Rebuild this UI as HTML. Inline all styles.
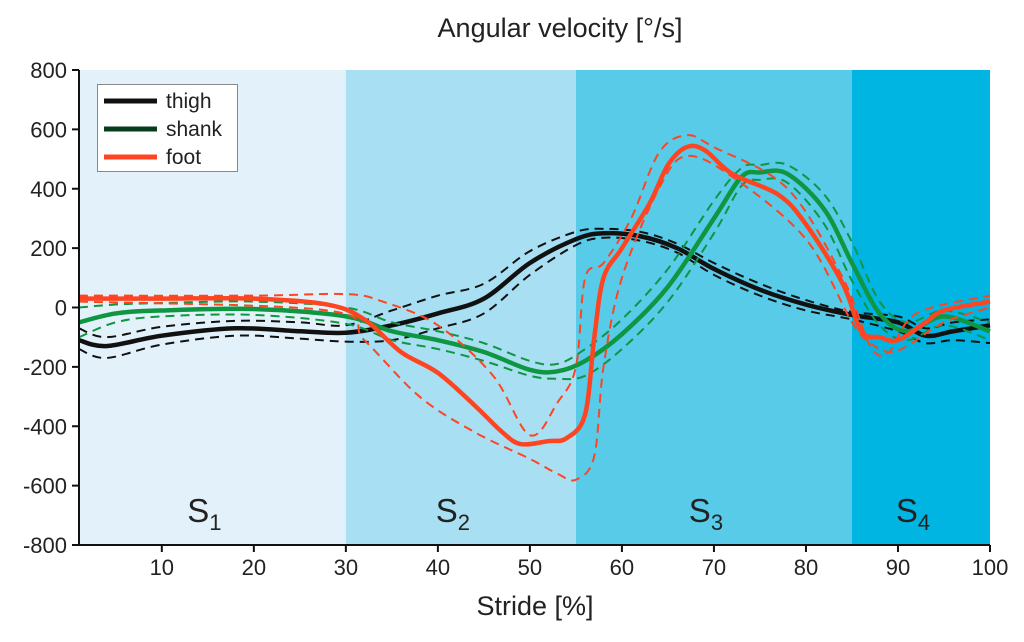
<!DOCTYPE html>
<html><head><meta charset="utf-8"><style>
body{margin:0;background:#fff}
svg text{font-family:"Liberation Sans",sans-serif;fill:#222}
</style></head><body>
<svg id="c" width="1024" height="637" viewBox="0 0 1024 637"></svg>
<script>
const phaseStarts=[1,30,55,85];
const phaseEnds=[30,55,85,100];
const phaseLabels=["1","2","3","4"];
const phaseColors=["#e3f2fa","#a8dff2","#58cbe9","#00b5e2"];
const xTicks=[10,20,30,40,50,60,70,80,90,100];
const yTicks=[800,600,400,200,0,-200,-400,-600,-800];

const thighX=[1,4,10,18,25,30,35,40,45,50,55,58,62,66,70,75,80,85,90,93,96,100];
const thighMean=[-110,-130,-95,-70,-80,-85,-60,-20,30,150,230,250,240,200,130,60,10,-25,-50,-95,-80,-60];
const thighUpper=[-70,-100,-65,-45,-50,-60,-10,40,80,190,255,265,255,215,150,80,25,-15,-30,-70,-50,-40];
const thighLower=[-140,-170,-125,-95,-105,-115,-110,-70,-20,110,210,235,225,185,110,40,-10,-40,-80,-120,-110,-120];

const shankX=[1,5,10,20,30,35,40,45,50,53,56,60,65,70,73,75,78,82,85,88,91,95,100];
const shankMean=[-50,-20,-10,-5,-30,-80,-110,-150,-210,-215,-180,-90,70,300,440,455,450,330,150,-20,-80,-30,-80];
const shankUpper=[0,10,15,20,0,-50,-80,-120,-180,-190,-140,-40,130,360,470,480,480,380,220,20,-50,-10,-50];
const shankLower=[-100,-50,-30,-25,-55,-110,-140,-180,-230,-240,-230,-140,20,250,410,430,420,280,90,-60,-110,-60,-110];

const footX=[1,10,20,28,32,36,40,44,47,49,52,54,56,57,58,60,63,65,67,69,72,77,80,84,86,88,90,93,95,100];
const footMean=[30,30,30,10,-40,-150,-220,-330,-420,-460,-450,-440,-360,-100,100,200,350,480,540,530,450,380,280,80,-80,-100,-110,-50,-10,20];
const footUX=[1,20,30,34,40,46,50,53,55,56,58,61,64,67,70,78,84,87,89,92,100];
const footUpper=[40,40,45,20,-60,-230,-430,-320,-200,100,150,300,520,580,540,400,100,-130,-150,-20,40];
const footLX=[1,28,32,38,44,50,53,55,57,58,60,64,67,72,80,85,87,89,91,95,100];
const footLower=[20,-10,-110,-300,-420,-510,-560,-580,-500,-200,100,400,510,440,230,-50,-120,-150,-130,-50,0];

const L=79,R=990,T=70,B=545;
const xs=v=>L+(v-1)/(99)*(R-L);
const ys=v=>T+(800-v)/1600*(B-T);
const svg=document.getElementById('c');
const NS="http://www.w3.org/2000/svg";
function mk(tag,attrs,parent){const e=document.createElementNS(NS,tag);for(const k in attrs)e.setAttribute(k,attrs[k]);(parent||svg).appendChild(e);return e;}

phaseStarts.forEach((s,i)=>{
  const r=mk('rect',{x:xs(s),y:T,width:xs(phaseEnds[i])-xs(s),height:B-T,fill:phaseColors[i]});
  
  
  const t=mk('text',{x:(xs(s)+xs(phaseEnds[i]))/2-8,y:522,'font-size':33,'text-anchor':'middle'});
  
  
  t.innerHTML='S<tspan font-size="22" dy="8">'+phaseLabels[i]+'</tspan>';
});

function path(X,Y){
  const p=X.map((x,i)=>[xs(x),ys(Y[i])]);
  let d='M'+p[0][0]+','+p[0][1];
  for(let i=0;i<p.length-1;i++){
    const p0=p[Math.max(0,i-1)],p1=p[i],p2=p[i+1],p3=p[Math.min(p.length-1,i+2)];
    const c1=[p1[0]+(p2[0]-p0[0])/6,p1[1]+(p2[1]-p0[1])/6];
    const c2=[p2[0]-(p3[0]-p1[0])/6,p2[1]-(p3[1]-p1[1])/6];
    d+=' C'+c1+' '+c2+' '+p2;
  }
  return d;
}
function series(name,color,X,M,UX,U,LX,Lo){
  const a=mk('path',{d:path(UX,U),fill:'none',stroke:color,'stroke-width':2,'stroke-dasharray':'9,6'});
  
  
  const b=mk('path',{d:path(LX,Lo),fill:'none',stroke:color,'stroke-width':2,'stroke-dasharray':'9,6'});
  
  
  const m=mk('path',{d:path(X,M),fill:'none',stroke:color,'stroke-width':4.5,'stroke-linejoin':'round'});
  
  
}
series('thigh','#111',thighX,thighMean,thighX,thighUpper,thighX,thighLower);
series('shank','#0e9640',shankX,shankMean,shankX,shankUpper,shankX,shankLower);
series('foot','#ff4422',footX,footMean,footUX,footUpper,footLX,footLower);

const ax=mk('path',{d:`M${L},${T} V${B} H${R}`,fill:'none',stroke:'#111','stroke-width':2});


yTicks.forEach(v=>{
  mk('line',{x1:L-7,x2:L,y1:ys(v),y2:ys(v),stroke:'#111','stroke-width':2});
  const t=mk('text',{x:L-12,y:ys(v)+8,'font-size':22,'text-anchor':'end'});
  
  
  t.textContent=v;
});
xTicks.forEach(v=>{
  mk('line',{x1:xs(v),x2:xs(v),y1:B,y2:B+7,stroke:'#111','stroke-width':2});
  const t=mk('text',{x:xs(v),y:B+30,'font-size':22,'text-anchor':'middle'});
  
  
  t.textContent=v;
});
const ti=mk('text',{x:560,y:37,'font-size':27,'text-anchor':'middle'});


ti.textContent='Angular velocity [°/s]';
const xl=mk('text',{x:535,y:615,'font-size':27,'text-anchor':'middle'});


xl.textContent='Stride [%]';

const lg=mk('g',{});


mk('rect',{x:97.5,y:84.5,width:140,height:87,fill:'#fff',stroke:'#888','stroke-width':1},lg);
[['thigh','#111'],['shank','#063d1a'],['foot','#ff4422']].forEach((e,i)=>{
  const g=mk('g',{},lg);
  
  
  const y=101+i*28;
  mk('line',{x1:104,x2:157,y1:y,y2:y,stroke:e[1],'stroke-width':5},g);
  const t=mk('text',{x:166,y:y+7,'font-size':21},g);
  t.textContent=e[0];
});
</script>
</body></html>
